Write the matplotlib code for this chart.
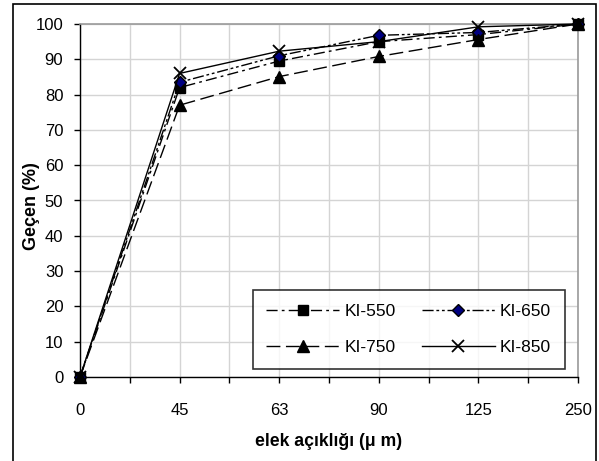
import numpy as np
import matplotlib.pyplot as plt
from matplotlib.patches import Rectangle

plt.rcParams['font.family'] = ['Liberation Sans', 'DejaVu Sans']

# sieve openings (categories), drawn at evenly spaced positions
sizes = ['0', '45', '63', '90', '125', '250']

ki550 = [0, 82, 89.5, 95, 97, 100]
ki650 = [0, 83.5, 91, 96.8, 97.6, 100]
ki750 = [0, 77, 85.1, 90.8, 95.6, 100]
ki850 = [0, 86, 92.3, 95, 99.2, 100]

fig = plt.figure(figsize=(5.99, 4.61), dpi=100)
# plot area in pixels: x 80..578, y 24..377
W, H = 599.0, 461.0
ax = fig.add_axes([80 / W, 1 - 377 / H, (578 - 80) / W, (377 - 24) / H])

pos = np.arange(len(sizes))

l550, = ax.plot(pos, ki550, color='black', lw=1, dashes=[8, 3, 2, 3],
                marker='s', ms=7, mfc='black', mec='black', label='KI-550',
                zorder=3, clip_on=False)
l650, = ax.plot(pos, ki650, color='black', lw=1, dashes=[8, 2, 2, 2, 2, 2],
                marker='D', ms=6.5, mfc='#000080', mec='black', label='KI-650',
                zorder=3, clip_on=False)
l750, = ax.plot(pos, ki750, color='black', lw=1, dashes=[10, 4],
                marker='^', ms=8, mfc='black', mec='black', label='KI-750',
                zorder=3, clip_on=False)
l850, = ax.plot(pos, ki850, color='black', lw=1, linestyle='-',
                marker='x', ms=8, mew=1.3, mfc='black', mec='black',
                label='KI-850', zorder=3, clip_on=False)

ax.set_xlim(0, len(sizes) - 1)
ax.set_ylim(0, 100)

half = np.arange(0, len(sizes) - 0.5, 0.5)
ax.set_xticks(half)
ax.set_xticklabels([sizes[int(h)] if h == int(h) else '' for h in half])
ax.set_yticks(np.arange(0, 101, 10))

ax.grid(True, color='#d4d4d4', lw=1)
ax.set_axisbelow(True)

ax.tick_params(axis='both', labelsize=12, direction='out', length=4,
               color='black', width=1)
ax.tick_params(axis='x', pad=15)
ax.tick_params(axis='y', pad=8)

for side in ['left', 'bottom']:
    ax.spines[side].set_color('black')
    ax.spines[side].set_linewidth(1)
for side in ['top', 'right']:
    ax.spines[side].set_color('#9a9a9a')
    ax.spines[side].set_linewidth(1.2)

ax.set_xlabel('elek açıklığı (μ m)', fontsize=12.7, fontweight='bold')
ax.set_ylabel('Geçen (%)', fontsize=13, fontweight='bold')
ax.xaxis.label.set_va('center')
ax.xaxis.set_label_coords(0.5, (377 - 441) / 353.0)
ax.yaxis.label.set_va('center')
ax.yaxis.set_label_coords((32 - 80) / 498.0, (377 - 206) / 353.0)

# legend filled column-wise, so order gives rows 550/650 and 750/850
leg = ax.legend([l550, l750, l650, l850], ['KI-550', 'KI-750', 'KI-650', 'KI-850'],
                loc='lower right', bbox_to_anchor=(565 / W, 1 - 369 / H),
                bbox_transform=fig.transFigure, ncol=2, fontsize=12.5,
                frameon=True, fancybox=False, handlelength=4.2,
                handletextpad=0.3, columnspacing=1.5, labelspacing=1.2,
                borderpad=0.8, borderaxespad=0)
leg.get_frame().set_edgecolor('black')
leg.get_frame().set_linewidth(1.2)

# outer chart border
fig.patches.append(Rectangle((13 / W, -0.01), (596 - 13) / W, 1.01 - 4 / H,
                             transform=fig.transFigure, fill=False,
                             edgecolor='black', lw=1.2))

fig.savefig('out.png', dpi=100)
